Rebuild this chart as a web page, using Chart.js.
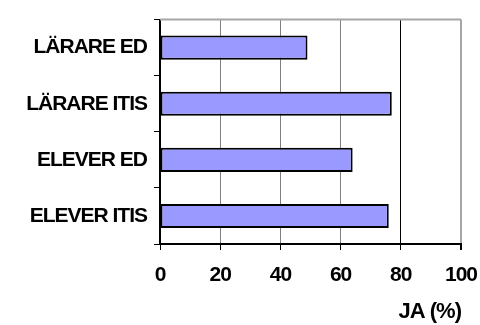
<!DOCTYPE html>
<html>
<head>
<meta charset="utf-8">
<script src="https://cdn.jsdelivr.net/npm/chart.js@4/dist/chart.umd.min.js"></script>
<style>
  html, body { margin: 0; padding: 0; background: #fff; }
  #wrap { width: 480px; height: 325px; position: relative; }
</style>
</head>
<body>
<div id="wrap"><canvas id="myChart"></canvas></div>
<script>
const categories = ['LÄRARE ED', 'LÄRARE ITIS', 'ELEVER ED', 'ELEVER ITIS'];
const jaValues = [49, 77, 64, 76];
const xTicks = [0, 20, 40, 60, 80, 100];
const xTitle = 'JA (%)';

const family = 'Arial, "Liberation Sans", sans-serif';
const font = { family: family, size: 21, weight: 'bold' };

// tight letter spacing for all text, plus the gray frame line along the top
const frame = {
    id: 'frame',
    beforeDraw(chart) {
        chart.ctx.letterSpacing = '-1px';
    },
    afterDatasetsDraw(chart) {
        const a = chart.chartArea;
        const c = chart.ctx;
        c.save();
        c.strokeStyle = '#a6a6a6';
        c.lineWidth = 2;
        c.beginPath();
        c.moveTo(a.left, a.top);
        c.lineTo(a.right, a.top);
        c.stroke();
        c.restore();
    }
};

new Chart(document.getElementById('myChart'), {
    type: 'bar',
    data: {
        labels: categories,
        datasets: [{
            data: jaValues,
            backgroundColor: '#9999ff',
            borderColor: '#000',
            borderWidth: 2,
            borderSkipped: false,
            barPercentage: 0.43,
            categoryPercentage: 1
        }]
    },
    options: {
        indexAxis: 'y',
        responsive: true,
        maintainAspectRatio: false,
        animation: false,
        layout: { padding: { top: 14, right: 0, left: 0, bottom: 0 } },
        plugins: { legend: { display: false }, tooltip: { enabled: false } },
        scales: {
            x: {
                min: 0,
                max: 100,
                afterBuildTicks(scale) {
                    scale.ticks = xTicks.map(v => ({ value: v }));
                },
                afterFit(scale) {
                    scale.height = 81;
                    scale.paddingLeft = 0;
                    scale.paddingRight = 19;
                },
                border: { color: '#000', width: 2 },
                grid: {
                    color(ctx) {
                        const v = ctx.tick && ctx.tick.value;
                        if (v === 80) return '#000';
                        if (v === 100) return '#a6a6a6';
                        return '#808080';
                    },
                    lineWidth(ctx) {
                        return ctx.tick && ctx.tick.value === 100 ? 2 : 1;
                    },
                    tickColor: '#000',
                    tickLength: 6
                },
                ticks: { color: '#000', font: font, padding: 13 },
                title: {
                    display: true,
                    text: xTitle,
                    align: 'end',
                    color: '#000',
                    font: { family: family, size: 22, weight: 'bold' },
                    padding: { top: 6, bottom: 0 }
                }
            },
            y: {
                afterFit(scale) { scale.width = 160; },
                border: { color: '#000', width: 2 },
                grid: {
                    offset: true,
                    drawOnChartArea: false,
                    tickColor: '#000',
                    tickLength: 6
                },
                ticks: { color: '#000', font: font, padding: 7 }
            }
        }
    },
    plugins: [frame]
});
</script>
</body>
</html>
